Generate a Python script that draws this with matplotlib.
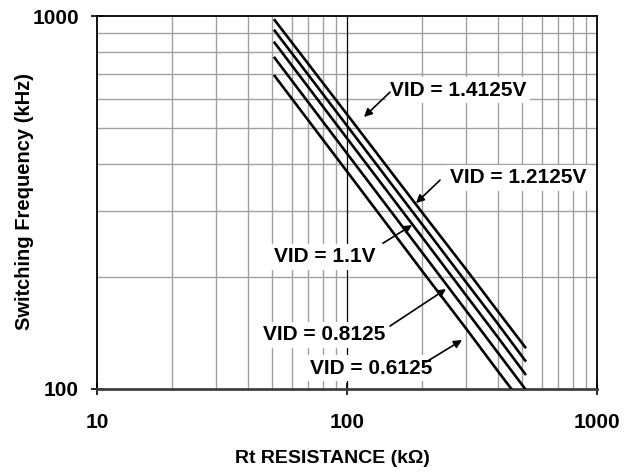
import matplotlib
matplotlib.use("Agg")
import matplotlib.pyplot as plt
from matplotlib.ticker import FixedLocator, NullLocator

plt.rcParams['font.family'] = ['Liberation Sans', 'DejaVu Sans']
plt.rcParams['font.weight'] = 'bold'

# Data
rt_kohm = [51, 100, 200, 300, 400, 520]
freq_14125 = [981, 545, 297, 209, 162, 128.6]
freq_12125 = [919, 508, 276, 193, 150, 118.4]
freq_11 = [853, 470, 255, 178, 138, 109]
freq_08125 = [777, 428, 232, 162, 125.5, 99.4]
freq_06125 = [695, 383, 207, 145, 112, 88.8]
series = [freq_14125, freq_12125, freq_11, freq_08125, freq_06125]

labels = ["VID = 1.4125V", "VID = 1.2125V", "VID = 1.1V", "VID = 0.8125", "VID = 0.6125"]
# (text position, arrow tail, arrow tip) in data coords
label_text_pos = [(278, 633), (483, 368), (81.7, 226), (80.9, 139.6), (124.7, 113.8)]
arrow_tail = [(148.6, 625), (235.5, 363), (139.3, 246), (148.6, 147.5), (207, 118.1)]
arrow_tip = [(116.9, 536), (188.8, 315), (182, 275), (248.9, 185.3), (288.4, 135.3)]

x_ticks = [10, 100, 1000]
y_ticks = [100, 1000]

fig = plt.figure(figsize=(6.33, 4.75), dpi=100)
ax = fig.add_axes([97/633, 1-389/475, 500/633, 373/475])
ax.set_xscale('log')
ax.set_yscale('log')
ax.set_xlim(10, 1000)
ax.set_ylim(100, 1000)

# grid
minor_x = [m * d for d in (10, 100) for m in range(2, 10)]
minor_y = [m * 100 for m in range(2, 10)]
for v in minor_x:
    ax.axvline(v, color='#a0a0a0', lw=1.0, zorder=0)
for v in minor_y:
    ax.axhline(v, color='#a0a0a0', lw=1.0, zorder=0)
ax.axvline(100, color='black', lw=0.9, zorder=0.5)

for ys in series:
    ax.plot(rt_kohm, ys, color='black', lw=1.9, solid_capstyle='butt', zorder=3)

for lab, tp, tail, tip in zip(labels, label_text_pos, arrow_tail, arrow_tip):
    ax.text(tp[0], tp[1], lab, ha='center', va='center', fontsize=15, fontweight='bold',
            bbox=dict(facecolor='white', edgecolor='none', pad=2.5), zorder=4)
    ax.annotate('', xy=tip, xytext=tail,
                arrowprops=dict(arrowstyle='-|>', color='black', lw=1.2,
                                mutation_scale=12, shrinkA=0, shrinkB=0),
                zorder=5)

ax.xaxis.set_major_locator(FixedLocator(x_ticks))
ax.yaxis.set_major_locator(FixedLocator(y_ticks))
ax.xaxis.set_minor_locator(NullLocator())
ax.yaxis.set_minor_locator(NullLocator())
ax.set_xticklabels([str(v) for v in x_ticks])
ax.set_yticklabels([str(v) for v in y_ticks])
ax.tick_params(axis='both', which='major', direction='inout', length=8, width=1.2,
               labelsize=15)
ax.tick_params(axis='x', pad=13)
ax.tick_params(axis='y', pad=9)
for lbl in ax.get_xticklabels() + ax.get_yticklabels():
    lbl.set_fontweight('bold')

for s in ['top', 'right', 'left']:
    ax.spines[s].set_color('black')
    ax.spines[s].set_linewidth(1.3)
ax.spines['bottom'].set_color('#404040')
ax.spines['bottom'].set_linewidth(2.0)

ax.set_xlabel('Rt RESISTANCE (kΩ)', fontsize=14, fontweight='bold')
ax.set_ylabel('Switching Frequency (kHz)', fontsize=14.5, fontweight='bold')
ax.xaxis.set_label_coords(0.47, -0.163)
ax.yaxis.set_label_coords(-0.126, 0.503)

fig.savefig('out.png', dpi=100)
